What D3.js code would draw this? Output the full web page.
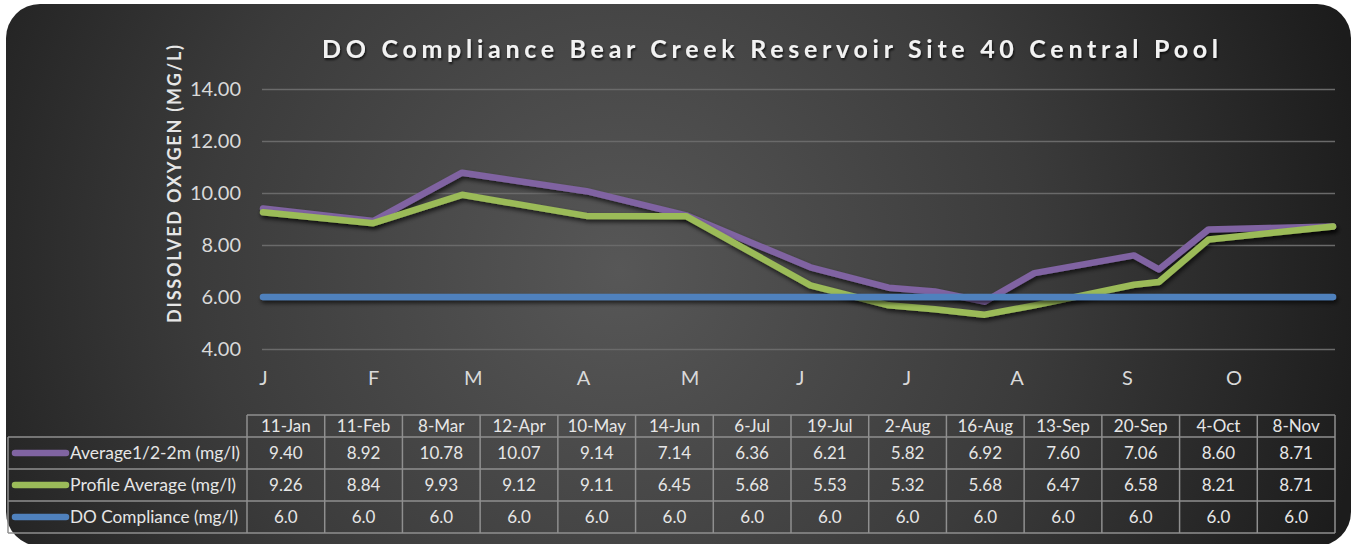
<!DOCTYPE html>
<html>
<head>
<meta charset="utf-8">
<script src="https://cdn.jsdelivr.net/npm/d3@7"></script>
<style>
  body { margin: 0; background: #ffffff; }
  svg { display: block; }
</style>
</head>
<body>
<div id="vis"></div>
<script>
// Chart data
const SAMPLE_DATES = ["11-Jan", "11-Feb", "8-Mar", "12-Apr", "10-May", "14-Jun", "6-Jul",
                      "19-Jul", "2-Aug", "16-Aug", "13-Sep", "20-Sep", "4-Oct", "8-Nov"];
const AVERAGE_TOP = [9.40, 8.92, 10.78, 10.07, 9.14, 7.14, 6.36, 6.21, 5.82, 6.92, 7.60, 7.06, 8.60, 8.71];
const PROFILE_AVG = [9.26, 8.84, 9.93, 9.12, 9.11, 6.45, 5.68, 5.53, 5.32, 5.68, 6.47, 6.58, 8.21, 8.71];
const COMPLIANCE = [6.0, 6.0, 6.0, 6.0, 6.0, 6.0, 6.0, 6.0, 6.0, 6.0, 6.0, 6.0, 6.0, 6.0];
const SERIES_NAMES = ["Average1/2-2m (mg/l)", "Profile Average (mg/l)", "DO Compliance (mg/l)"];
const Y_TICKS = [4, 6, 8, 10, 12, 14];
const MONTH_TICK_COUNT = 10;

// Frame and layout constants
const FRAME_WIDTH = 1356;
const FRAME_HEIGHT = 544;
const PLOT = {left: 263, right: 1333, top: 89, bottom: 349};
const TABLE = {left: 8, colStart: 247, right: 1335, top: 415, headerBottom: 437, rowH: 32};
const COLORS = ["#8064a2", "#9bbb59", "#4f81bd"];
const FONT = "Lato, 'Open Sans', sans-serif";

const parseDate = d3.timeParse("%d-%b-%Y");
const dates = SAMPLE_DATES.map((s) => parseDate(s + "-2018"));

const FRAME = d3.select("#vis")
  .append("svg")
    .attr("width", FRAME_WIDTH)
    .attr("height", FRAME_HEIGHT);

const defs = FRAME.append("defs");

// Background gradient: lighter centre, dark edges
const grad = defs.append("radialGradient")
  .attr("id", "bg")
  .attr("gradientUnits", "userSpaceOnUse")
  .attr("cx", 620).attr("cy", 270).attr("r", 760);
grad.append("stop").attr("offset", "0%").attr("stop-color", "#575757");
grad.append("stop").attr("offset", "55%").attr("stop-color", "#3b3b3b");
grad.append("stop").attr("offset", "100%").attr("stop-color", "#1c1c1c");

// Shadows for the lines and text (user space so flat lines still render)
const shadow = defs.append("filter").attr("id", "shadow")
  .attr("filterUnits", "userSpaceOnUse")
  .attr("x", 0).attr("y", 0).attr("width", FRAME_WIDTH).attr("height", FRAME_HEIGHT);
shadow.append("feDropShadow")
  .attr("dx", 1.5).attr("dy", 3).attr("stdDeviation", 2)
  .attr("flood-color", "#000").attr("flood-opacity", 0.65);

const textShadow = defs.append("filter").attr("id", "tshadow");
textShadow.append("feDropShadow")
  .attr("dx", 1).attr("dy", 2).attr("stdDeviation", 1.2)
  .attr("flood-color", "#000").attr("flood-opacity", 0.7);

// Card
FRAME.append("rect")
  .attr("x", 6).attr("y", 4)
  .attr("width", 1345).attr("height", 542)
  .attr("rx", 34).attr("ry", 34)
  .attr("fill", "url(#bg)");

// Scales
const X_SCALE = d3.scaleTime()
  .domain([dates[0], dates[dates.length - 1]])
  .range([PLOT.left, PLOT.right]);

const Y_SCALE = d3.scaleLinear()
  .domain([d3.min(Y_TICKS), d3.max(Y_TICKS)])
  .range([PLOT.bottom, PLOT.top]);

// Title
FRAME.append("text")
  .attr("x", 770)
  .attr("y", 58)
  .attr("text-anchor", "middle")
  .attr("textLength", 896)
  .attr("lengthAdjust", "spacing")
  .attr("filter", "url(#tshadow)")
  .style("font-family", FONT)
  .style("font-weight", "bold")
  .style("font-size", "25px")
  .style("fill", "#f2f2f2")
  .text("DO Compliance Bear Creek Reservoir Site 40 Central Pool");

// Y axis title
FRAME.append("text")
  .attr("transform", "translate(181," + 184 + ") rotate(-90)")
  .attr("text-anchor", "middle")
  .attr("textLength", 278)
  .attr("lengthAdjust", "spacing")
  .style("font-family", FONT)
  .style("font-weight", "bold")
  .style("font-size", "18px")
  .style("fill", "#e6e6e6")
  .text("DISSOLVED OXYGEN (MG/L)");

// Gridlines and y tick labels
const yAxis = FRAME.append("g")
  .attr("transform", "translate(" + PLOT.left + ",0)")
  .call(d3.axisLeft(Y_SCALE)
    .tickValues(Y_TICKS)
    .tickSize(-(PLOT.right + 2 - PLOT.left))
    .tickPadding(22)
    .tickFormat(d3.format(".2f")));
yAxis.select(".domain").remove();
yAxis.selectAll(".tick line")
  .attr("stroke", "#6a6a6a")
  .attr("stroke-width", 1.5)
  .attr("x1", -1);
yAxis.selectAll(".tick text")
  .style("font-family", FONT)
  .style("font-size", "20px")
  .style("fill", "#d9d9d9");

// Month labels (one per month from the first sample date)
const monthTicks = d3.range(MONTH_TICK_COUNT).map((i) => d3.timeMonth.offset(dates[0], i));
const xAxis = FRAME.append("g")
  .attr("transform", "translate(0," + PLOT.bottom + ")")
  .call(d3.axisBottom(X_SCALE)
    .tickValues(monthTicks)
    .tickSize(0)
    .tickPadding(22)
    .tickFormat((d) => d3.timeFormat("%B")(d)[0]));
xAxis.select(".domain").remove();
xAxis.selectAll(".tick text")
  .style("font-family", FONT)
  .style("font-size", "20px")
  .style("fill", "#d9d9d9");

// Lines, drawn in series order (purple, green, blue on top)
const allSeries = [AVERAGE_TOP, PROFILE_AVG, COMPLIANCE];
const line = d3.line()
  .x((d, i) => X_SCALE(dates[i]))
  .y((d) => Y_SCALE(d));

FRAME.append("g")
  .selectAll("path")
  .data(allSeries)
  .enter()
  .append("path")
    .attr("d", (s) => line(s))
    .attr("fill", "none")
    .attr("stroke", (s, k) => COLORS[k])
    .attr("stroke-width", 6.5)
    .attr("stroke-linejoin", "round")
    .attr("stroke-linecap", "round")
    .attr("filter", "url(#shadow)");

// Data table
const COL = d3.scaleBand()
  .domain(SAMPLE_DATES)
  .range([TABLE.colStart, TABLE.right]);

const table = FRAME.append("g");
const lineColor = "#8f8f8f";
const bottom = TABLE.headerBottom + TABLE.rowH * allSeries.length;

// horizontal rules
table.append("line")
  .attr("x1", TABLE.colStart).attr("x2", TABLE.right)
  .attr("y1", TABLE.top).attr("y2", TABLE.top);
d3.range(allSeries.length + 1).forEach((r) => {
  const y = TABLE.headerBottom + r * TABLE.rowH;
  table.append("line")
    .attr("x1", TABLE.left).attr("x2", TABLE.right)
    .attr("y1", y).attr("y2", y);
});
// vertical rules
table.append("line")
  .attr("x1", TABLE.left).attr("x2", TABLE.left)
  .attr("y1", TABLE.headerBottom).attr("y2", bottom);
SAMPLE_DATES.forEach((d) => {
  table.append("line")
    .attr("x1", COL(d)).attr("x2", COL(d))
    .attr("y1", TABLE.top).attr("y2", bottom);
});
table.append("line")
  .attr("x1", TABLE.right).attr("x2", TABLE.right)
  .attr("y1", TABLE.top).attr("y2", bottom);
table.selectAll("line")
  .attr("stroke", lineColor)
  .attr("stroke-width", 1.5);

// header texts
table.selectAll(".head")
  .data(SAMPLE_DATES)
  .enter()
  .append("text")
    .attr("class", "head")
    .attr("x", (d) => COL(d) + COL.bandwidth() / 2)
    .attr("y", (TABLE.top + TABLE.headerBottom) / 2 + 6)
    .attr("text-anchor", "middle")
    .text((d) => d);

// value cells
allSeries.forEach((s, k) => {
  const yMid = TABLE.headerBottom + k * TABLE.rowH + TABLE.rowH / 2;
  const fmt = k === 2 ? d3.format(".1f") : d3.format(".2f");
  table.selectAll(".val" + k)
    .data(s)
    .enter()
    .append("text")
      .attr("class", "val" + k)
      .attr("x", (d, i) => COL(SAMPLE_DATES[i]) + COL.bandwidth() / 2)
      .attr("y", yMid + 6)
      .attr("text-anchor", "middle")
      .text((d) => fmt(d));

  // legend key
  table.append("line")
    .attr("x1", 15).attr("x2", 66)
    .attr("y1", yMid).attr("y2", yMid)
    .attr("stroke", COLORS[k])
    .attr("stroke-width", 6.5)
    .attr("stroke-linecap", "round");
  table.append("text")
    .attr("class", "legend")
    .attr("x", 70)
    .attr("y", yMid + 6)
    .text(SERIES_NAMES[k]);
});

table.selectAll("text")
  .style("font-family", FONT)
  .style("font-size", "17px")
  .style("fill", "#e6e6e6");
table.selectAll(".legend")
  .attr("textLength", 170)
  .attr("lengthAdjust", "spacingAndGlyphs");
table.selectAll(".legend").filter((d, i) => i === 1).attr("textLength", 166);
table.selectAll(".legend").filter((d, i) => i === 2).attr("textLength", 168);
</script>
</body>
</html>
